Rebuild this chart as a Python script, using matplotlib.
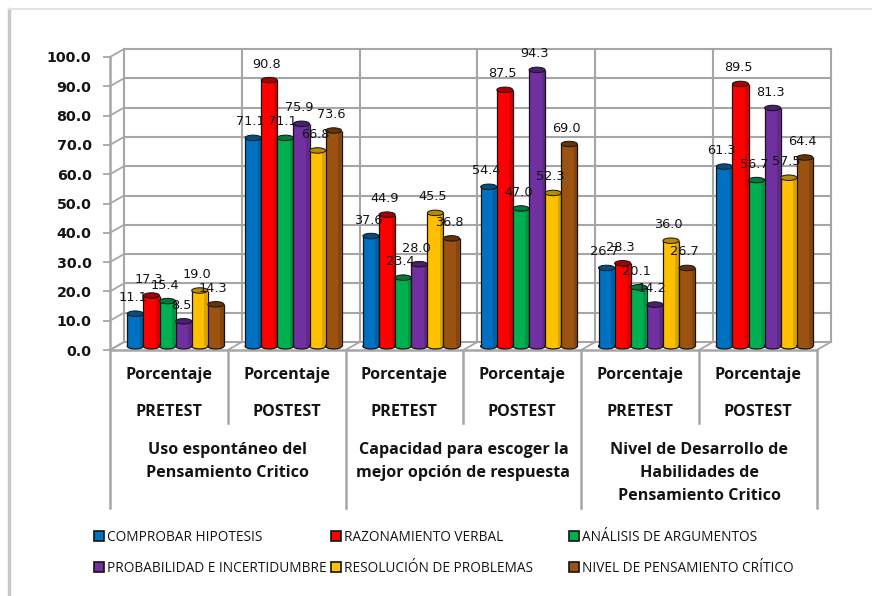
import matplotlib
matplotlib.use("Agg")
import matplotlib.pyplot as plt
import numpy as np
from matplotlib.lines import Line2D
from matplotlib.patches import Ellipse, Patch

plt.rcParams['font.family'] = ['Open Sans', 'DejaVu Sans']

series = ["COMPROBAR HIPOTESIS", "RAZONAMIENTO VERBAL", "ANÁLISIS DE ARGUMENTOS",
          "PROBABILIDAD E INCERTIDUMBRE", "RESOLUCIÓN DE PROBLEMAS", "NIVEL DE PENSAMIENTO CRÍTICO"]
colores = ["#0070C0", "#FF0000", "#00B050", "#7030A0", "#FFC000", "#9C5210"]
tapas = ["#004F88", "#A80000", "#007A3A", "#4A1E70", "#B88A00", "#643408"]

comprobar = [11.1, 71.1, 37.6, 54.4, 26.7, 61.3]
razonamiento = [17.3, 90.8, 44.9, 87.5, 28.3, 89.5]
analisis = [15.4, 71.1, 23.4, 47.0, 20.1, 56.7]
probabilidad = [8.5, 75.9, 28.0, 94.3, 14.2, 81.3]
resolucion = [19.0, 66.8, 45.5, 52.3, 36.0, 57.5]
nivel = [14.3, 73.6, 36.8, 69.0, 26.7, 64.4]
valores = [comprobar, razonamiento, analisis, probabilidad, resolucion, nivel]

fila1 = ["Porcentaje"] * 6
fila2 = ["PRETEST", "POSTEST"] * 3
grupos = ["Uso espontáneo del\nPensamiento Critico",
          "Capacidad para escoger la\nmejor opción de respuesta",
          "Nivel de Desarrollo de\nHabilidades de\nPensamiento Critico"]

W, H = 872, 596
fig = plt.figure(figsize=(W / 100, H / 100), dpi=100, facecolor="white")

# axes del plano frontal: 0-6 categorias, 0-100 porcentaje
X0, X1, Y0, Y100 = 110, 816.8, 350, 57
ax = fig.add_axes([X0 / W, 1 - Y0 / H, (X1 - X0) / W, (Y0 - Y100) / H])
ax.set_xlim(0, 6)
ax.set_ylim(0, 100)
ax.patch.set_visible(False)

px_x = (X1 - X0) / 6
px_y = (Y0 - Y100) / 100
dx = 14 / px_x   # profundidad de la caja 3D
dy = 8 / px_y
gris = "#A6A6A6"
tinta = "#141414"


def py(p):
    # fila en pixeles a unidades del eje y
    return (Y0 - p) / px_y


ticks = np.arange(0, 101, 10)
ax.set_yticks(ticks)
ax.set_yticklabels(["%.1f" % t for t in ticks], fontsize=10.3, fontweight="bold",
                   color=tinta, family="DejaVu Sans")
ax.tick_params(axis="y", length=5, width=1.3, color=gris, pad=8.3)
ax.set_xticks([])
for s in ["top", "right", "bottom"]:
    ax.spines[s].set_visible(False)
ax.spines["left"].set_color(gris)
ax.spines["left"].set_linewidth(1.8)

# paredes y piso
for t in ticks:
    ax.plot([dx, 6 + dx], [t + dy, t + dy], color=gris, lw=1.5, zorder=1, clip_on=False)
    ax.plot([0, dx], [t, t + dy], color=gris, lw=1.3, zorder=1, clip_on=False)
for k in range(7):
    ax.plot([k + dx, k + dx], [dy, 100 + dy], color=gris, lw=1.5, zorder=1, clip_on=False)
    ax.plot([k, k + dx], [0, dy], color=gris, lw=1.3, zorder=1, clip_on=False)
ax.plot([0, 6], [0, 0], color=gris, lw=1.8, zorder=1, clip_on=False)

# divisiones de las categorias debajo del eje
for k in range(7):
    fin = 508 if k % 2 == 0 else 423
    ax.plot([k, k], [0, py(fin)], color=gris, lw=1.8, clip_on=False)

# cilindros
ancho = 16.1 / px_x
inicio = 17.3 / px_x
base = 1.3
alto_tapa = 5.5 / px_y
pos = np.arange(6)
for i, vals in enumerate(valores):
    xs = pos + inicio + ancho * (i + 0.5)
    vals = np.array(vals)
    z = 3 + i
    for x in xs:
        ax.add_patch(Ellipse((x, base), ancho, alto_tapa, fc=colores[i], ec=tinta,
                             lw=0.9, zorder=z, clip_on=False))
    ax.bar(xs, vals, ancho, bottom=base, color=colores[i], linewidth=0, zorder=z, clip_on=False)
    # sombra lateral y contorno del cilindro
    ax.bar(xs + ancho * 0.38, vals, ancho * 0.2, bottom=base, color="black", alpha=0.14,
           linewidth=0, zorder=z, clip_on=False)
    ax.vlines(xs - ancho / 2, base, base + vals, color=tinta, lw=0.9, zorder=z, clip_on=False)
    ax.vlines(xs + ancho / 2, base, base + vals, color=tinta, lw=0.9, zorder=z, clip_on=False)
    for x, v in zip(xs, vals):
        ax.add_patch(Ellipse((x, base + v), ancho, alto_tapa, fc=tapas[i], ec=tinta,
                             lw=0.7, zorder=z, clip_on=False))
        ax.annotate("%.1f" % v, (x, base + v), xytext=(-1.8, 11.5), textcoords="offset points",
                    ha="center", va="center", fontsize=9.3, color=tinta,
                    family="DejaVu Sans", zorder=20, annotation_clip=False)

# etiquetas de categorias
for k in range(6):
    ax.text(k + 0.5, py(375), fila1[k], ha="center", va="center", fontsize=11.6,
            fontweight="bold", color=tinta, clip_on=False)
    ax.text(k + 0.5, py(412), fila2[k], ha="center", va="center", fontsize=11.6,
            fontweight="bold", color=tinta, clip_on=False)
for k, g in enumerate(grupos):
    centro = 450 + 11.5 * g.count("\n")
    ax.text(2 * k + 1, py(centro), g, ha="center", va="center", fontsize=11.6,
            fontweight="bold", color=tinta, linespacing=1.55, clip_on=False)

# leyenda: una columna por cada posicion horizontal
columnas = [(94, [0, 3]), (331, [1, 4]), (569, [2, 5])]
for xcol, idx in columnas:
    manijas = [Patch(fc=colores[i], ec=tinta, lw=1.2, label=series[i]) for i in idx]
    leg = fig.legend(handles=manijas, loc="center left", bbox_to_anchor=(xcol / W, 1 - 553 / H),
                     frameon=False, fontsize=9.8, handlelength=0.75, handleheight=0.75,
                     handletextpad=0.22, labelspacing=1.15, borderpad=0, borderaxespad=0,
                     labelcolor=tinta)

# borde de la tarjeta
fig.add_artist(Line2D([9 / W, 9 / W], [0, 1 - 9 / H], color="#C8C8C8", lw=2.4))
fig.add_artist(Line2D([9 / W, 1], [1 - 9 / H, 1 - 9 / H], color="#E2E2E2", lw=1.4))

fig.savefig("out.png", dpi=100)
